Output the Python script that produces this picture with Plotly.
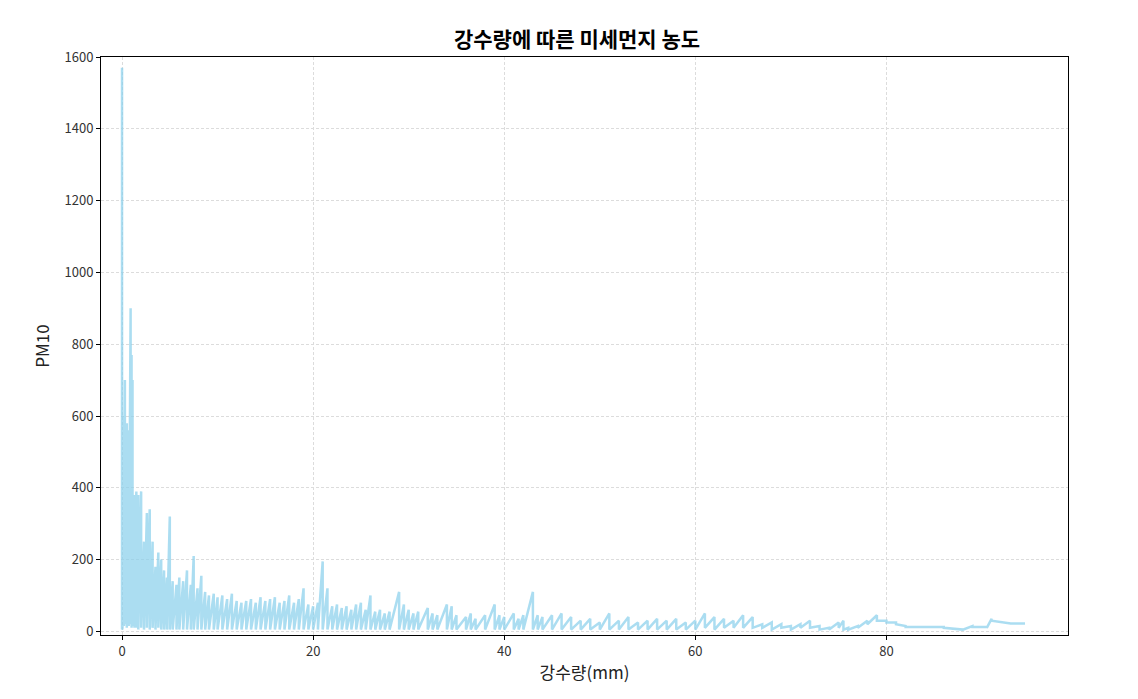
import plotly.graph_objects as go

# rainfall (mm), peak PM10 and trough PM10 at each rainfall value
rain = [0, 0.05, 0.1, 0.2, 0.3, 0.5, 0.7, 0.9, 1.0, 1.1, 1.3, 1.5, 1.7, 2.0, 2.3, 2.6, 2.9,
        3.2, 3.5, 3.8, 4.1, 4.4, 4.7, 5.0, 5.3, 5.7, 6.0, 6.4, 6.8, 7.2, 7.5, 7.9, 8.3, 8.7,
        9.1, 9.6, 10, 10.5, 11, 11.5, 12, 12.5, 13, 13.5, 14, 14.5, 15, 15.5, 16, 16.5, 17,
        17.5, 18, 18.5, 19, 19.5, 20, 20.5, 21, 21.5, 22, 22.5, 23, 23.5, 24, 24.5, 25, 25.5,
        26, 26.5, 27, 27.5, 28, 29, 29.5, 30, 30.5, 31, 32, 32.5, 33, 34, 34.5, 35, 36, 36.5,
        37, 38, 39, 39.5, 40, 41, 41.5, 42, 43, 43.5, 44, 45, 46, 47, 48, 49, 50, 51, 52, 53,
        54, 55, 56, 57, 58, 59, 60, 61, 62, 63, 64, 65, 66, 67, 68, 69, 70, 71, 72, 73, 74,
        75, 75.5, 76, 77, 78, 79, 80, 81, 82, 84, 86, 88, 89, 90.5, 91, 93, 94.5]
pm_high = [1570, 930, 600, 580, 700, 580, 560, 900, 770, 700, 380, 390, 380, 390, 250, 330, 340,
           250, 180, 220, 200, 170, 150, 320, 140, 130, 150, 140, 170, 130, 210, 120, 155, 110,
           100, 105, 95, 100, 90, 105, 85, 80, 85, 90, 80, 95, 85, 90, 95, 80, 85,
           100, 80, 90, 120, 75, 70, 80, 195, 120, 70, 75, 65, 70, 60, 75, 80, 60,
           100, 55, 60, 50, 55, 110, 75, 60, 50, 55, 65, 50, 45, 75, 70, 45, 40, 50,
           35, 45, 75, 45, 40, 50, 35, 45, 110, 45, 40, 45, 50, 40, 30, 35, 25, 50, 30, 40,
           25, 30, 35, 30, 35, 25, 30, 50, 40, 35, 30, 45, 40, 20, 25, 20, 15, 20, 30, 15, 10,
           25, 30, 10, 15, 30, 45, 30, 25, 15, 12, 12, 5, 15, 12, 35, 22, 22]
pm_low = [5, 10, 20, 15, 20, 10, 15, 20, 10, 15, 10, 10, 5, 10, 5, 10, 5,
          10, 5, 10, 5, 5, 5, 5, 5, 5, 5, 5, 5, 5, 5, 5, 5, 5,
          5, 5, 5, 5, 5, 5, 5, 5, 5, 5, 5, 5, 5, 5, 5, 5, 5,
          5, 5, 5, 5, 5, 5, 5, 5, 5, 5, 5, 5, 5, 5, 5, 5, 5,
          5, 5, 5, 5, 5, 5, 5, 5, 5, 5, 5, 5, 5, 5, 5, 5, 5, 5,
          5, 5, 5, 5, 5, 5, 5, 5, 5, 5, 5, 5, 5, 5, 5, 5, 5, 5, 5, 5,
          5, 5, 5, 5, 5, 5, 5, 10, 5, 10, 10, 10, 10, 10, 5, 10, 5, 10, 10, 5, 5,
          10, 5, 5, 10, 20, 30, 25, 20, 12, 12, 10, 5, 12, 10, 30, 22, 22]

xs, ys = [], []
for r, h, l in zip(rain, pm_high, pm_low):
    xs += [r, r]
    ys += [h, l]

fig = go.Figure(go.Scatter(x=xs, y=ys, mode="lines",
                           line=dict(color="rgba(135,206,235,0.7)", width=2.5)))

axis_common = dict(showline=True, linecolor="black", mirror=True, ticks="outside",
                   ticklen=4, tickcolor="black", showgrid=True, gridcolor="#dcdcdc",
                   griddash="3px,2px", gridwidth=0.7, zeroline=False, automargin=False,
                   tickfont=dict(size=13, color="#333"))

fig.update_layout(
    width=1138, height=699, plot_bgcolor="white", paper_bgcolor="white",
    margin=dict(l=93, r=78, t=49, b=72),
    font=dict(family="Noto Sans CJK KR"),
    title=dict(text="<b>강수량에 따른 미세먼지 농도</b>", x=0.5, y=0.965,
               xanchor="center", font=dict(size=21, color="black"), automargin=False),
    xaxis=dict(title=dict(text="강수량(mm)", font=dict(size=17, color="#222"), standoff=8),
               range=[-2.2, 99], tickvals=[0, 20, 40, 60, 80], **axis_common),
    yaxis=dict(title=dict(text="PM10", font=dict(size=17, color="#222"), standoff=10),
               range=[-10, 1600], tickvals=list(range(0, 1601, 200)), **axis_common),
    showlegend=False,
)

fig.write_html("out.html")
